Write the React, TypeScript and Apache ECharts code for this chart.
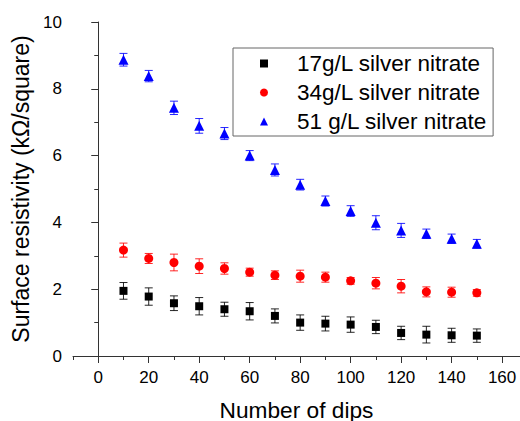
import React, { useEffect, useRef } from "react";
import * as echarts from "echarts";

const dips = [10, 20, 30, 40, 50, 60, 70, 80, 90, 100, 110, 120, 130, 140, 150];
const r17 = [1.95, 1.78, 1.58, 1.49, 1.40, 1.34, 1.20, 1.00, 0.97, 0.94, 0.87, 0.69, 0.64, 0.62, 0.61];
const e17 = [0.25, 0.26, 0.22, 0.26, 0.21, 0.26, 0.21, 0.23, 0.22, 0.23, 0.20, 0.20, 0.25, 0.21, 0.20];
const r34 = [3.17, 2.92, 2.80, 2.69, 2.62, 2.51, 2.42, 2.39, 2.36, 2.25, 2.18, 2.09, 1.92, 1.91, 1.89];
const e34 = [0.21, 0.15, 0.25, 0.22, 0.17, 0.12, 0.13, 0.18, 0.15, 0.10, 0.17, 0.20, 0.15, 0.15, 0.10];
const r51 = [8.87, 8.38, 7.43, 6.89, 6.66, 6.00, 5.57, 5.13, 4.64, 4.34, 3.99, 3.76, 3.66, 3.51, 3.36];
const e51 = [0.19, 0.17, 0.20, 0.22, 0.18, 0.15, 0.18, 0.16, 0.15, 0.16, 0.21, 0.21, 0.14, 0.14, 0.13];

const names = ["17g/L silver nitrate", "34g/L silver nitrate", "51 g/L silver nitrate"];
const colors = ["#000000", "#ff0000", "#0000ff"];
const symbols = ["rect", "circle", "triangle"];
const symbolSizes = [8, 9, 10];
const xMajorTicks = [0, 20, 40, 60, 80, 100, 120, 140, 160];
const xMinorTicks = [-10, 10, 30, 50, 70, 90, 110, 130, 150];

const FONT = "'Liberation Sans', Arial, sans-serif";

export default function App() {
  const ref = useRef<HTMLDivElement>(null);
  useEffect(() => {
    if (!ref.current) return;
    const chart = echarts.init(ref.current, undefined, { renderer: "svg" });
    const values = [r17, r34, r51];
    const errs = [e17, e34, e51];
    const scatterSeries = values.map((vals, i) => ({
      type: "scatter",
      name: names[i],
      symbol: symbols[i],
      symbolSize: symbolSizes[i],
      itemStyle: { color: colors[i], opacity: 1 },
      data: dips.map((d, j) => [d, vals[j]]),
      z: 3,
    }));
    const errSeries = values.map((vals, i) => ({
      type: "custom",
      name: "err" + i,
      encode: { x: 0, y: [1, 2] },
      z: 2,
      data: dips.map((d, j) => [d, vals[j] - errs[i][j], vals[j] + errs[i][j]]),
      renderItem: (params: any, api: any) => {
        const x = api.value(0);
        const p1 = api.coord([x, api.value(2)]);
        const p2 = api.coord([x, api.value(1)]);
        const w = 4;
        const style = { stroke: colors[i], lineWidth: 1, opacity: 0.85 };
        return {
          type: "group",
          children: [
            { type: "line", shape: { x1: p1[0], y1: p1[1], x2: p2[0], y2: p2[1] }, style },
            { type: "line", shape: { x1: p1[0] - w, y1: p1[1], x2: p1[0] + w, y2: p1[1] }, style },
            { type: "line", shape: { x1: p2[0] - w, y1: p2[1], x2: p2[0] + w, y2: p2[1] }, style },
          ],
        };
      },
    }));
    const axisColor = "#333333";
    chart.setOption({
      animation: false,
      backgroundColor: "#ffffff",
      textStyle: { fontFamily: FONT },
      grid: { left: 73, right: 0, top: 22, bottom: 65, outerBoundsMode: "none", containLabel: false },
      legend: {
        data: names,
        orient: "vertical",
        left: 233,
        top: 48,
        itemWidth: 8,
        itemHeight: 8,
        itemGap: 6,
        padding: [4, 6, 3, 27],
        borderColor: "#666666",
        borderWidth: 1,
        backgroundColor: "#ffffff",
        textStyle: { fontSize: 22.5, lineHeight: 22, color: "#000", fontFamily: FONT, padding: [0, 0, 0, 24] },
      },
      xAxis: [
        {
          type: "value",
          min: -10,
          max: 167.1,
          position: "bottom",
          name: "Number of dips",
          nameLocation: "middle",
          nameGap: 42,
          nameTextStyle: { fontSize: 22.7, color: "#000", fontFamily: FONT },
          axisLine: { show: true, lineStyle: { color: axisColor, width: 1 } },
          axisTick: { show: true, inside: false, length: 7, customValues: xMajorTicks, lineStyle: { color: axisColor } },
          axisLabel: { show: true, customValues: xMajorTicks, fontSize: 17, color: "#000", margin: 13, fontFamily: FONT },
          splitLine: { show: false },
        },
        {
          type: "value",
          min: -10,
          max: 167.1,
          position: "bottom",
          axisLine: { show: false },
          axisTick: { show: true, inside: false, length: 4, customValues: xMinorTicks, lineStyle: { color: axisColor } },
          axisLabel: { show: false },
          splitLine: { show: false },
        },
      ],
      yAxis: {
        type: "value",
        min: 0,
        max: 10,
        interval: 2,
        name: "Surface resistivity (kΩ/square)",
        nameLocation: "middle",
        nameGap: 38,
        nameTextStyle: { fontSize: 23, color: "#000", fontFamily: FONT },
        axisLine: { show: true, lineStyle: { color: axisColor, width: 1 } },
        axisTick: { show: true, inside: false, length: 7, lineStyle: { color: axisColor } },
        minorTick: { show: true, splitNumber: 2, length: 4, lineStyle: { color: axisColor } },
        axisLabel: { fontSize: 17, color: "#000", margin: 11, fontFamily: FONT },
        splitLine: { show: false },
        minorSplitLine: { show: false },
      },
      series: [...errSeries, ...scatterSeries],
    } as any);
    return () => chart.dispose();
  }, []);
  return (
    <div
      ref={ref}
      style={{ position: "absolute", left: 0, top: 0, width: 520, height: 421 }}
    />
  );
}
